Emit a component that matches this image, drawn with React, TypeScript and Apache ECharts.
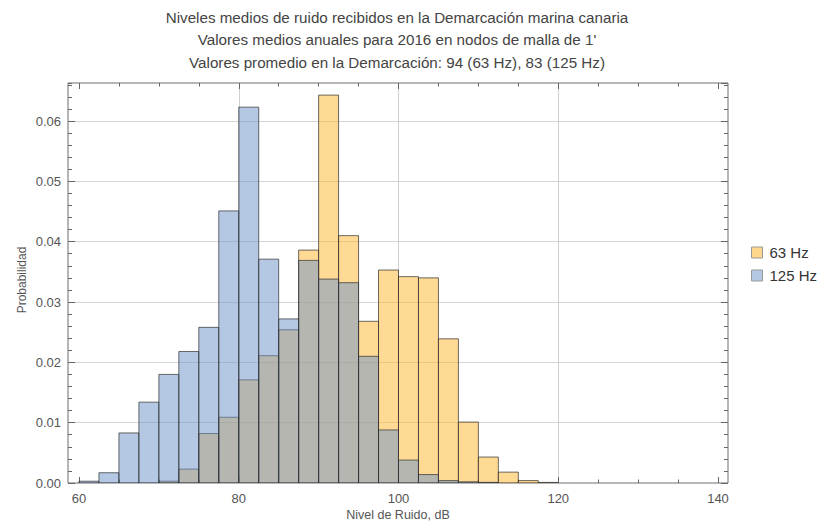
import React, { useEffect, useRef } from "react";
import * as echarts from "echarts";

// Histogram bins (width 2.5 dB), starting edges
const binStarts = [60, 62.5, 65, 67.5, 70, 72.5, 75, 77.5, 80, 82.5, 85, 87.5, 90, 92.5, 95, 97.5, 100, 102.5, 105, 107.5, 110, 112.5, 115, 117.5];
const binWidth = 2.5;
const seriesNames = ["63 Hz", "125 Hz"];
const prob63 = [0, 0, 0, 0, 0.0003, 0.0023, 0.0082, 0.0109, 0.0171, 0.0211, 0.0254, 0.0386, 0.0643, 0.0410, 0.0268, 0.0353, 0.0342, 0.0340, 0.0239, 0.0101, 0.0043, 0.0018, 0.0004, 0.0001];
const prob125 = [0.0003, 0.0017, 0.0083, 0.0134, 0.0180, 0.0218, 0.0258, 0.0451, 0.0623, 0.0371, 0.0272, 0.0369, 0.0338, 0.0332, 0.0210, 0.0088, 0.0038, 0.0014, 0.0004, 0.0002, 0.0001, 0, 0, 0];
const titleLines = [
  "Niveles medios de ruido recibidos en la Demarcación marina canaria",
  "Valores medios anuales para 2016 en nodos de malla de 1'",
  "Valores promedio en la Demarcación: 94 (63 Hz), 83 (125 Hz)",
];
const xTitle = "Nivel de Ruido, dB";
const yTitle = "Probabilidad";

const FILL63 = "rgba(255,181,41,0.5)";
const FILL125 = "rgba(105,145,201,0.5)";
const EDGE = "rgba(45,45,45,0.7)";
const TXT = "#555";
const FONT = "'Liberation Sans', Arial, sans-serif";
const NARROW = "'Liberation Sans Narrow', 'Arial Narrow', 'Liberation Sans', sans-serif";

function toData(vals: number[]) {
  return vals
    .map((v, i) => [binStarts[i], binStarts[i] + binWidth, v])
    .filter((d) => d[2] > 0);
}

function renderBar(fill: string) {
  return (params: any, api: any) => {
    const p0 = api.coord([api.value(0), api.value(2)]);
    const p1 = api.coord([api.value(1), 0]);
    return {
      type: "rect",
      shape: { x: p0[0], y: p0[1], width: p1[0] - p0[0], height: p1[1] - p0[1] },
      style: { fill, stroke: EDGE, lineWidth: 1 },
    };
  };
}

export default function App() {
  const ref = useRef<HTMLDivElement>(null);
  useEffect(() => {
    if (!ref.current) return;
    const chart = echarts.init(ref.current, null, { renderer: "svg" });
    const G1 = { left: 68, right: 93, top: 83, bottom: 41 };
    const G2 = { left: 79, right: 103, top: 83, bottom: 41 };
    const yMax = 0.0663;
    const tickLine = { color: "#666", width: 1 };
    const yBase = {
      gridIndex: 0,
      type: "value",
      min: 0,
      max: yMax,
      axisLine: { show: false },
      splitLine: { show: false },
      axisLabel: { show: false },
    };
    const option: any = {
      animation: false,
      grid: [
        { ...G1, show: true, borderColor: "#6f6f6f", borderWidth: 1, backgroundColor: "transparent" },
        { ...G2, show: false },
      ],
      xAxis: [
        { gridIndex: 0, type: "value", min: 58.625, max: 141.25, show: false },
        {
          gridIndex: 1,
          type: "value",
          position: "bottom",
          min: 60,
          max: 140,
          interval: 20,
          axisLine: { show: false },
          axisTick: { show: true, inside: true, length: 6, lineStyle: tickLine },
          minorTick: { show: true, splitNumber: 4, length: 3.5, lineStyle: tickLine },
          axisLabel: { show: true, color: TXT, fontSize: 13, fontFamily: FONT, margin: 9 },
          splitLine: { show: true, showMinLine: false, showMaxLine: false, lineStyle: { color: "#cfcfcf", width: 1 } },
        },
        {
          gridIndex: 1,
          type: "value",
          position: "top",
          min: 60,
          max: 140,
          interval: 20,
          axisLine: { show: false },
          axisTick: { show: true, inside: true, length: 6, lineStyle: tickLine },
          minorTick: { show: true, splitNumber: 4, length: 3.5, lineStyle: tickLine },
          axisLabel: { show: false },
          splitLine: { show: false },
        },
      ],
      yAxis: [
        {
          ...yBase,
          position: "left",
          interval: 0.01,
          axisTick: { show: true, inside: true, length: 7, lineStyle: tickLine },
          axisLabel: {
            show: true,
            color: TXT,
            fontSize: 13,
            fontFamily: FONT,
            margin: 7,
            showMaxLabel: false,
            formatter: (v: number) => v.toFixed(2),
          },
          splitLine: { show: true, showMinLine: false, showMaxLine: false, lineStyle: { color: "#d6d6d6", width: 1 } },
        },
        { ...yBase, position: "left", interval: 0.002, axisTick: { show: true, inside: true, length: 4, lineStyle: tickLine } },
        { ...yBase, position: "right", interval: 0.01, axisTick: { show: true, inside: true, length: 7, lineStyle: tickLine } },
        { ...yBase, position: "right", interval: 0.002, axisTick: { show: true, inside: true, length: 4, lineStyle: tickLine } },
        { gridIndex: 1, type: "value", min: 0, max: 1, show: false },
      ],
      legend: {
        show: true,
        orient: "vertical",
        left: 746,
        top: 240,
        itemWidth: 11,
        itemHeight: 11,
        itemGap: 8,
        icon: "rect",
        textStyle: { color: "#333", fontSize: 15, fontFamily: FONT, padding: [0, 0, 0, 2] },
        data: [
          { name: seriesNames[0], itemStyle: { color: "rgba(255,215,140,1)", borderColor: "#999", borderWidth: 1 } },
          { name: seriesNames[1], itemStyle: { color: "rgba(180,200,228,1)", borderColor: "#999", borderWidth: 1 } },
        ],
      },
      graphic: [
        ...titleLines.map((t, i) => ({
          type: "text",
          x: 397,
          y: 17 + i * 22.5,
          style: { text: t, fill: "#444", font: `15.2px ${NARROW}`, textAlign: "center", textVerticalAlign: "middle" },
        })),
        {
          type: "text",
          x: 398,
          y: 515,
          style: { text: xTitle, fill: TXT, font: `12.5px ${FONT}`, textAlign: "center", textVerticalAlign: "middle" },
        },
        {
          type: "text",
          x: 22,
          y: 280,
          rotation: Math.PI / 2,
          style: { text: yTitle, fill: TXT, font: `12px ${FONT}`, textAlign: "center", textVerticalAlign: "middle" },
        },
      ],
      series: [
        {
          name: seriesNames[0],
          type: "custom",
          xAxisIndex: 0,
          yAxisIndex: 0,
          itemStyle: { color: FILL63 },
          renderItem: renderBar(FILL63),
          encode: { x: [0, 1], y: 2 },
          data: toData(prob63),
          clip: true,
        },
        {
          name: seriesNames[1],
          type: "custom",
          xAxisIndex: 0,
          yAxisIndex: 0,
          itemStyle: { color: FILL125 },
          renderItem: renderBar(FILL125),
          encode: { x: [0, 1], y: 2 },
          data: toData(prob125),
          clip: true,
        },
      ],
    };
    chart.setOption(option);
    return () => chart.dispose();
  }, []);
  return (
    <div
      ref={ref}
      style={{ position: "fixed", left: 0, top: 0, width: 821, height: 524, background: "#fff" }}
    />
  );
}
